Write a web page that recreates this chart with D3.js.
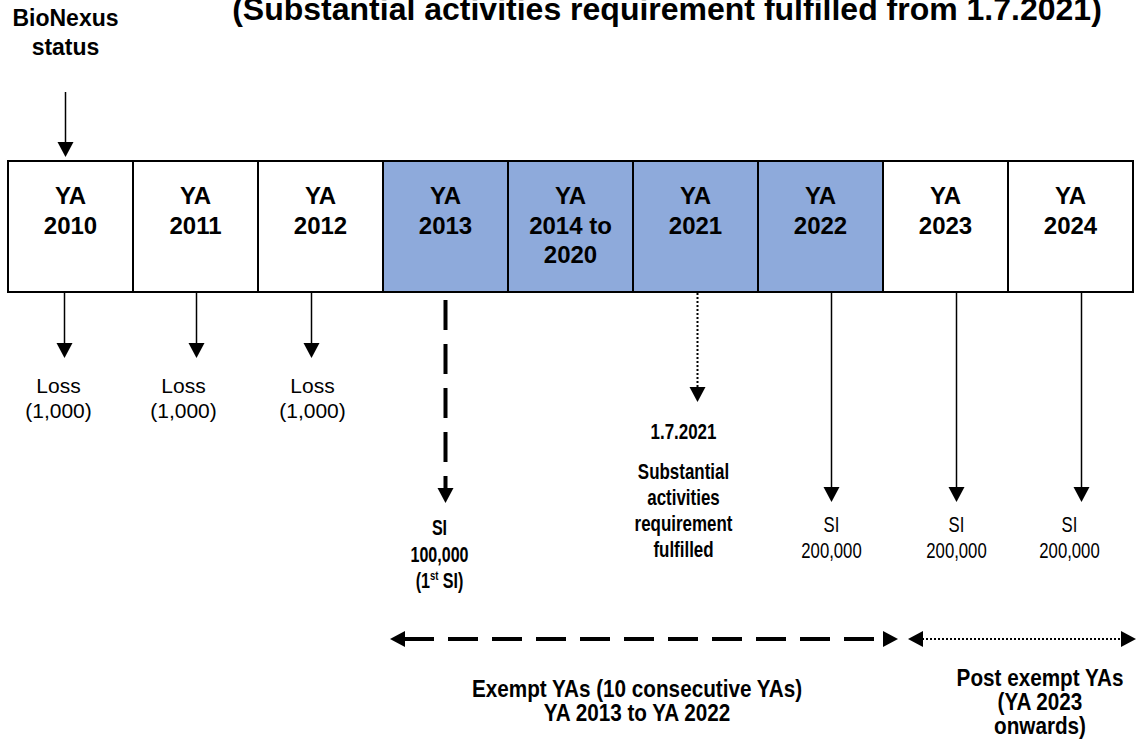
<!DOCTYPE html>
<html>
<head>
<meta charset="utf-8">
<script src="https://cdn.jsdelivr.net/npm/d3@7"></script>
<style>
  body { margin: 0; background: #fff; }
  svg text { font-family: "Liberation Sans", Arial, sans-serif; fill: #000; }
</style>
</head>
<body>
<svg width="1137" height="745"></svg>
<script>
// --- data ---
var titleText = "(Substantial activities requirement fulfilled from 1.7.2021)";
var statusLabel = ["BioNexus", "status"];

var boxIds = ["2010", "2011", "2012", "2013", "2014-2020", "2021", "2022", "2023", "2024"];
var boxLabels = [["YA", "2010"], ["YA", "2011"], ["YA", "2012"], ["YA", "2013"],
                 ["YA", "2014 to", "2020"], ["YA", "2021"], ["YA", "2022"], ["YA", "2023"], ["YA", "2024"]];
var exemptBoxes = ["2013", "2014-2020", "2021", "2022"];

var noteBoxes = ["2010", "2011", "2012", "2013", "2021", "2022", "2023", "2024"];
var noteKinds = ["loss", "loss", "loss", "first", "date", "si", "si", "si"];
var noteLines = [["Loss", "(1,000)"], ["Loss", "(1,000)"], ["Loss", "(1,000)"],
                 ["SI", "100,000", "(1^st^ SI)"],
                 ["1.7.2021", "", "Substantial", "activities", "requirement", "fulfilled"],
                 ["SI", "200,000"], ["SI", "200,000"], ["SI", "200,000"]];

var periodFrom = ["2013", "2023"];
var periodTo = ["2022", "2024"];
var periodKinds = ["dashed", "dotted"];
var periodLabels = [["Exempt YAs (10 consecutive YAs)", "YA 2013 to YA 2022"],
                    ["Post exempt YAs", "(YA 2023", "onwards)"]];

// --- layout / styles ---
var boxFill = "#8eaadb";
var boxTop = 161, boxBottom = 292;
var kindStyle = {
  loss:  {line: "solid",  tip: 358, text: 393, lh: 25, bold: false, size: 21, squeeze: 1},
  first: {line: "dashed", tip: 503, text: 535, lh: 26.5, bold: true, size: 22, squeeze: 0.73},
  date:  {line: "dotted", tip: 402, text: 439, lh: 26, bold: true, size: 22, squeeze: 0.77},
  si:    {line: "solid",  tip: 502, text: 532, lh: 25.5, bold: false, size: 22, squeeze: 0.76}
};
var arrowNudge = [-6, 1, -9, 0, 2, 11, 11, 11];
var textNudge = [-12, -12, -8, -6, -12, 11, 11, -1];
var periodStart = [7, 25], periodEnd = [15, 3], periodText = [-7, 18];
var periodY = 639;

var svg = d3.select("svg");
var x = d3.scaleBand().domain(boxIds).range([8, 1133]).padding(0);
var bw = x.bandwidth();

function head(g, tx, ty, dir) {
  var p = dir === "down"
    ? [[tx - 8, ty - 15], [tx + 8, ty - 15], [tx, ty]]
    : dir === "left"
      ? [[tx + 15, ty - 8], [tx + 15, ty + 8], [tx, ty]]
      : [[tx - 15, ty - 8], [tx - 15, ty + 8], [tx, ty]];
  g.append("path").attr("d", d3.line()(p) + "Z").attr("fill", "#000");
}

function lineStyle(sel, kind) {
  if (kind === "dashed") sel.attr("stroke-width", 4).attr("stroke-dasharray", "30,14");
  else if (kind === "dotted") sel.attr("stroke-width", 2).attr("stroke-dasharray", "2,2");
  else sel.attr("stroke-width", 1.5);
  return sel.attr("stroke", "#000");
}

function squeezed(g, tx, ty, sq, size, bold) {
  return g.append("text")
    .attr("transform", "translate(" + tx + "," + ty + ") scale(" + sq + ",1)")
    .attr("text-anchor", "middle").attr("font-size", size)
    .attr("font-weight", bold ? "bold" : "normal");
}

// title (cut at the top edge, as in the source)
svg.append("text").attr("x", 667).attr("y", 20)
  .attr("text-anchor", "middle").attr("font-size", 32).attr("font-weight", "bold")
  .text(titleText);

// status label + arrow
var sx = x("2010") + bw / 2 - 5;
svg.selectAll(".status").data(statusLabel).enter().append("text")
  .attr("x", sx).attr("y", function(d, i) { return 26 + i * 29; })
  .attr("text-anchor", "middle").attr("font-size", 23).attr("font-weight", "bold")
  .text(function(d) { return d; });
svg.append("line").attr("x1", sx).attr("x2", sx).attr("y1", 92).attr("y2", 142)
  .attr("stroke", "#000").attr("stroke-width", 1.5);
head(svg, sx, 157, "down");

// boxes
var boxes = svg.selectAll(".box").data(boxIds).enter().append("g").attr("class", "box");
boxes.append("rect")
  .attr("x", function(d) { return x(d); }).attr("y", boxTop)
  .attr("width", bw).attr("height", boxBottom - boxTop)
  .attr("fill", function(d) { return exemptBoxes.indexOf(d) >= 0 ? boxFill : "#fff"; })
  .attr("stroke", "#000").attr("stroke-width", 2);
boxes.each(function(d, i) {
  d3.select(this).selectAll("text").data(boxLabels[i]).enter().append("text")
    .attr("x", x(d) + bw / 2).attr("y", function(t, j) { return 204 + j * 29.5; })
    .attr("text-anchor", "middle").attr("font-size", 24).attr("font-weight", "bold")
    .text(function(t) { return t; });
});

// notes under boxes
noteBoxes.forEach(function(id, i) {
  var k = kindStyle[noteKinds[i]];
  var ax = x(id) + bw / 2 + arrowNudge[i];
  var g = svg.append("g");
  var y1 = k.line === "dashed" ? boxBottom + 8 : boxBottom + 1;
  lineStyle(g.append("line").attr("x1", ax).attr("x2", ax).attr("y1", y1).attr("y2", k.tip - 14)
    .attr("fill", "none"), k.line);
  head(g, ax, k.tip, "down");
  var tx = x(id) + bw / 2 + textNudge[i];
  var ty = k.text;
  noteLines[i].forEach(function(line) {
    if (line === "") { ty += 14; return; }
    var t = squeezed(g, tx, ty, k.squeeze, k.size, k.bold);
    line.split("^").forEach(function(part, p) {
      var s = t.append("tspan").text(part);
      if (p % 2 === 1) s.attr("font-size", 13).attr("dy", -8);
      else if (p > 0) s.attr("dy", 8);
    });
    ty += k.lh;
  });
});

// period arrows
periodFrom.forEach(function(from, i) {
  var x0 = x(from) + periodStart[i];
  var x1 = x(periodTo[i]) + bw + periodEnd[i];
  var g = svg.append("g");
  lineStyle(g.append("line").attr("x1", x0 + 14).attr("x2", x1 - 14)
    .attr("y1", periodY).attr("y2", periodY), periodKinds[i]);
  head(g, x0, periodY, "left");
  head(g, x1, periodY, "right");
  var cx = (x0 + x1) / 2 + periodText[i];
  periodLabels[i].forEach(function(d, j) {
    squeezed(g, cx, (i === 0 ? 697 : 686) + j * 24, 0.9, 23, true).text(d);
  });
});
</script>
</body>
</html>
